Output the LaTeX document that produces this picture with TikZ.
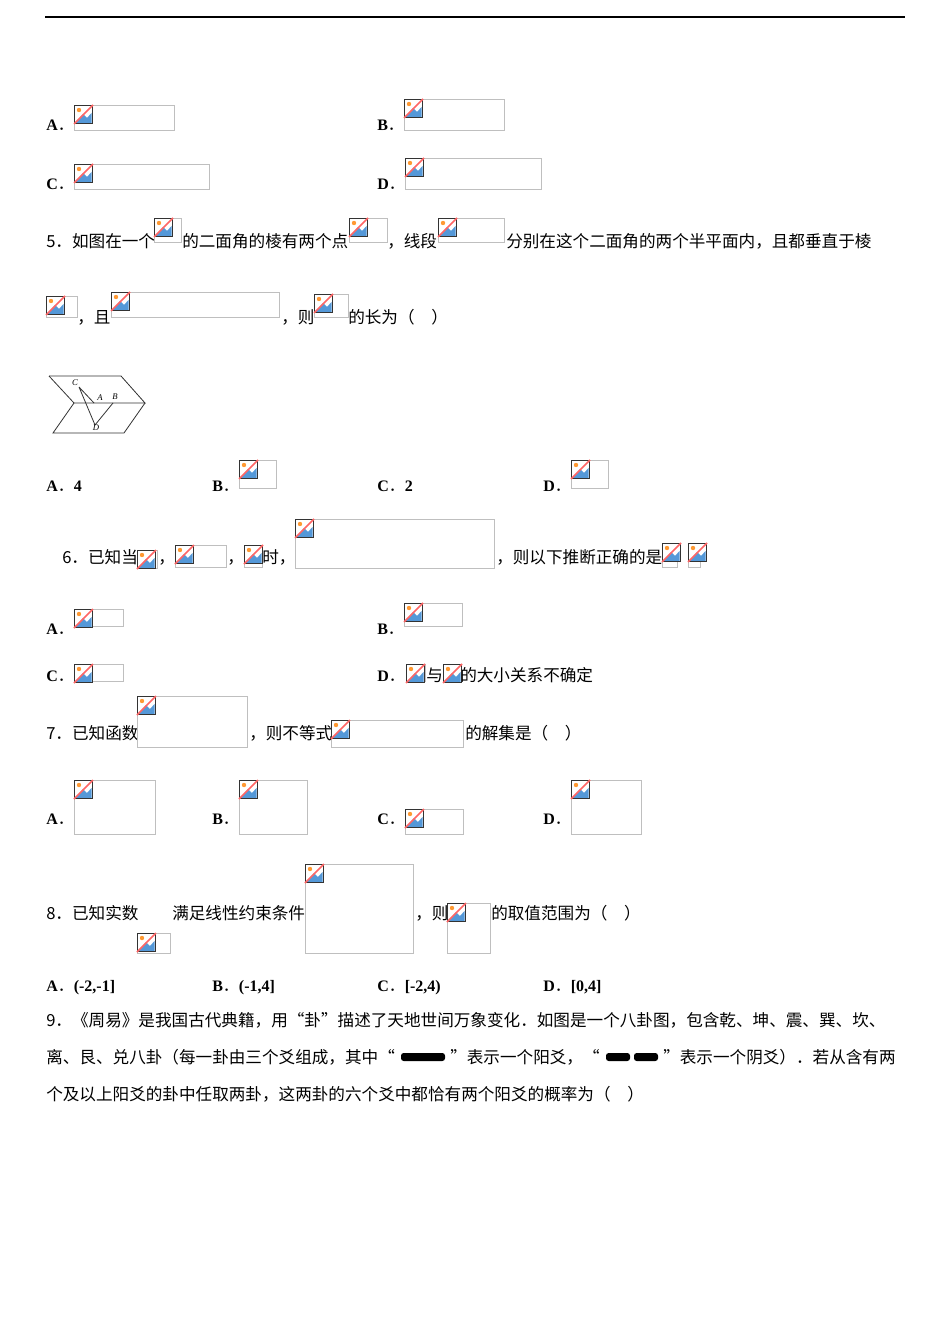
\documentclass[tikz,border=0pt]{standalone}
\usepackage{fontspec}
\setmainfont{Liberation Serif}
\newfontfamily\cjk{Noto Sans CJK SC}
\newcommand\dt{{\cjk\mdseries ．}}
\begin{document}
\begin{tikzpicture}[x=0.75pt,y=-0.75pt,
  t/.style={anchor=base west,inner sep=0pt,font=\cjk\fontsize{12.45pt}{14pt}\selectfont},
  lb/.style={anchor=base west,inner sep=0pt,font=\bfseries\fontsize{12pt}{14pt}\selectfont}]
\newcommand\img[4]{%
  \draw[black!25,line width=0.6pt] (#1,#2) rectangle (#3,#4);
  \begin{scope}[shift={(#1,#2)}]
    \fill[white] (0,0) rectangle (19,19);
    \fill[cyan!60!blue!70] (1.5,18) -- (9,9) -- (13,13) -- (17.5,8) -- (17.5,18) -- cycle;
    \fill[orange!80] (5,5) circle (2.2);
    \draw[black!80,line width=0.7pt] (0.5,0.5) rectangle (18.5,18.5);
    \draw[red!60,line width=1.2pt] (0,19) -- (19,0);
  \end{scope}}
\useasboundingbox (0,0) rectangle (950,1344);
\fill[white] (0,0) rectangle (950,1344);
\draw[line width=0.8pt] (45,17) -- (905,17);
% row 1-2
\node[lb] at (46,131) {A\dt}; \img{74}{105}{174}{130}
\node[lb] at (377,131) {B\dt}; \img{404}{99}{504}{130}
\node[lb] at (46,190) {C\dt}; \img{74}{164}{209}{189}
\node[lb] at (377,190) {D\dt}; \img{405}{158}{541}{189}
% Q5
\node[t] at (46,248) {5．如图在一个};
\img{154}{218}{181}{242}
\node[t] at (182,248) {的二面角的棱有两个点};
\img{349}{218}{387}{242}
\node[t] at (387,248) {，线段};
\img{438}{218}{504}{242}
\node[t] at (506,248) {分别在这个二面角的两个半平面内，且都垂直于棱};
\img{46}{296}{77}{317}
\node[t] at (77,323) {，且};
\img{111}{292}{279}{317}
\node[t] at (281,323) {，则};
\img{314}{294}{348}{317}
\node[t] at (348,323) {的长为（\quad ）};
% figure
\begin{scope}[line width=0.6pt,black!80]
\draw (49,376) -- (121,376) -- (145,403) -- (74,403);
\draw (49,376) -- (74,403);
\draw (74,403) -- (53,433) -- (124,433) -- (145,403);
\draw (79,387) -- (94,403) (79,387) -- (95,425) -- (113,403);
\end{scope}
\node[font=\itshape\fontsize{6.5pt}{7pt}\selectfont,inner sep=0] at (75,383) {C};
\node[font=\itshape\fontsize{6.5pt}{7pt}\selectfont,inner sep=0] at (100,398) {A};
\node[font=\itshape\fontsize{6.5pt}{7pt}\selectfont,inner sep=0] at (115,397) {B};
\node[font=\itshape\fontsize{6.5pt}{7pt}\selectfont,inner sep=0] at (96,428) {D};
\node[lb] at (46,491) {A\dt 4};
\node[lb] at (212,491) {B\dt}; \img{239}{460}{276}{488}
\node[lb] at (377,491) {C\dt 2};
\node[lb] at (543,491) {D\dt}; \img{571}{460}{608}{488}
% Q6
\node[t] at (62,563) {6．已知当};
\img{137}{550}{157}{568}
\node[t] at (158,563) {，};
\img{175}{545}{226}{567}
\node[t] at (227,563) {，};
\img{244}{545}{262}{567}
\node[t] at (262,563) {时，};
\img{295}{519}{494}{568}
\node[t] at (496,563) {，则以下推断正确的是};
\img{662}{543}{677}{567}
\img{688}{543}{700}{567}
\node[lb] at (46,634) {A\dt}; \img{74}{609}{123}{626}
\node[lb] at (377,634) {B\dt}; \img{404}{603}{462}{626}
\node[lb] at (46,681) {C\dt}; \img{74}{664}{123}{681}
\node[lb] at (377,681) {D\dt}; \img{406}{664}{425}{681}
\node[t] at (426,681) {与}; \img{443}{664}{459}{681}
\node[t] at (460,681) {的大小关系不确定};
% Q7
\node[t] at (46,739) {7．已知函数};
\img{137}{696}{247}{747}
\node[t] at (249,739) {，则不等式};
\img{331}{720}{463}{747}
\node[t] at (465,739) {的解集是（\quad ）};
\node[lb] at (46,824) {A\dt}; \img{74}{780}{155}{834}
\node[lb] at (212,824) {B\dt}; \img{239}{780}{307}{834}
\node[lb] at (377,824) {C\dt}; \img{405}{809}{463}{834}
\node[lb] at (543,824) {D\dt}; \img{571}{780}{641}{834}
% Q8
\node[t] at (46,919) {8．已知实数};
\node[t] at (172,919) {满足线性约束条件};
\img{305}{864}{413}{953}
\node[t] at (415,919) {，则};
\img{447}{903}{490}{953}
\node[t] at (491,919) {的取值范围为（\quad ）};
\img{137}{933}{170}{953}
\node[lb] at (46,991) {A\dt(-2,-1]};
\node[lb] at (212,991) {B\dt(-1,4]};
\node[lb] at (377,991) {C\dt[-2,4)};
\node[lb] at (543,991) {D\dt[0,4]};
% Q9
\node[t] at (46,1026) {9．《周易》是我国古代典籍，用“卦”描述了天地世间万象变化．如图是一个八卦图，包含乾、坤、震、巽、坎、};
\node[t] at (46,1063) {离、艮、兑八卦（每一卦由三个爻组成，其中“};
\fill[black,rounded corners=2pt] (401,1053) rectangle (445,1061);
\node[t] at (450,1063) {”表示一个阳爻，“};
\fill[black,rounded corners=2pt] (606,1053) rectangle (630,1061);
\fill[black,rounded corners=2pt] (634,1053) rectangle (658,1061);
\node[t] at (663,1063) {”表示一个阴爻）．若从含有两};
\node[t] at (46,1100) {个及以上阳爻的卦中任取两卦，这两卦的六个爻中都恰有两个阳爻的概率为（\quad ）};
\end{tikzpicture}
\end{document}
